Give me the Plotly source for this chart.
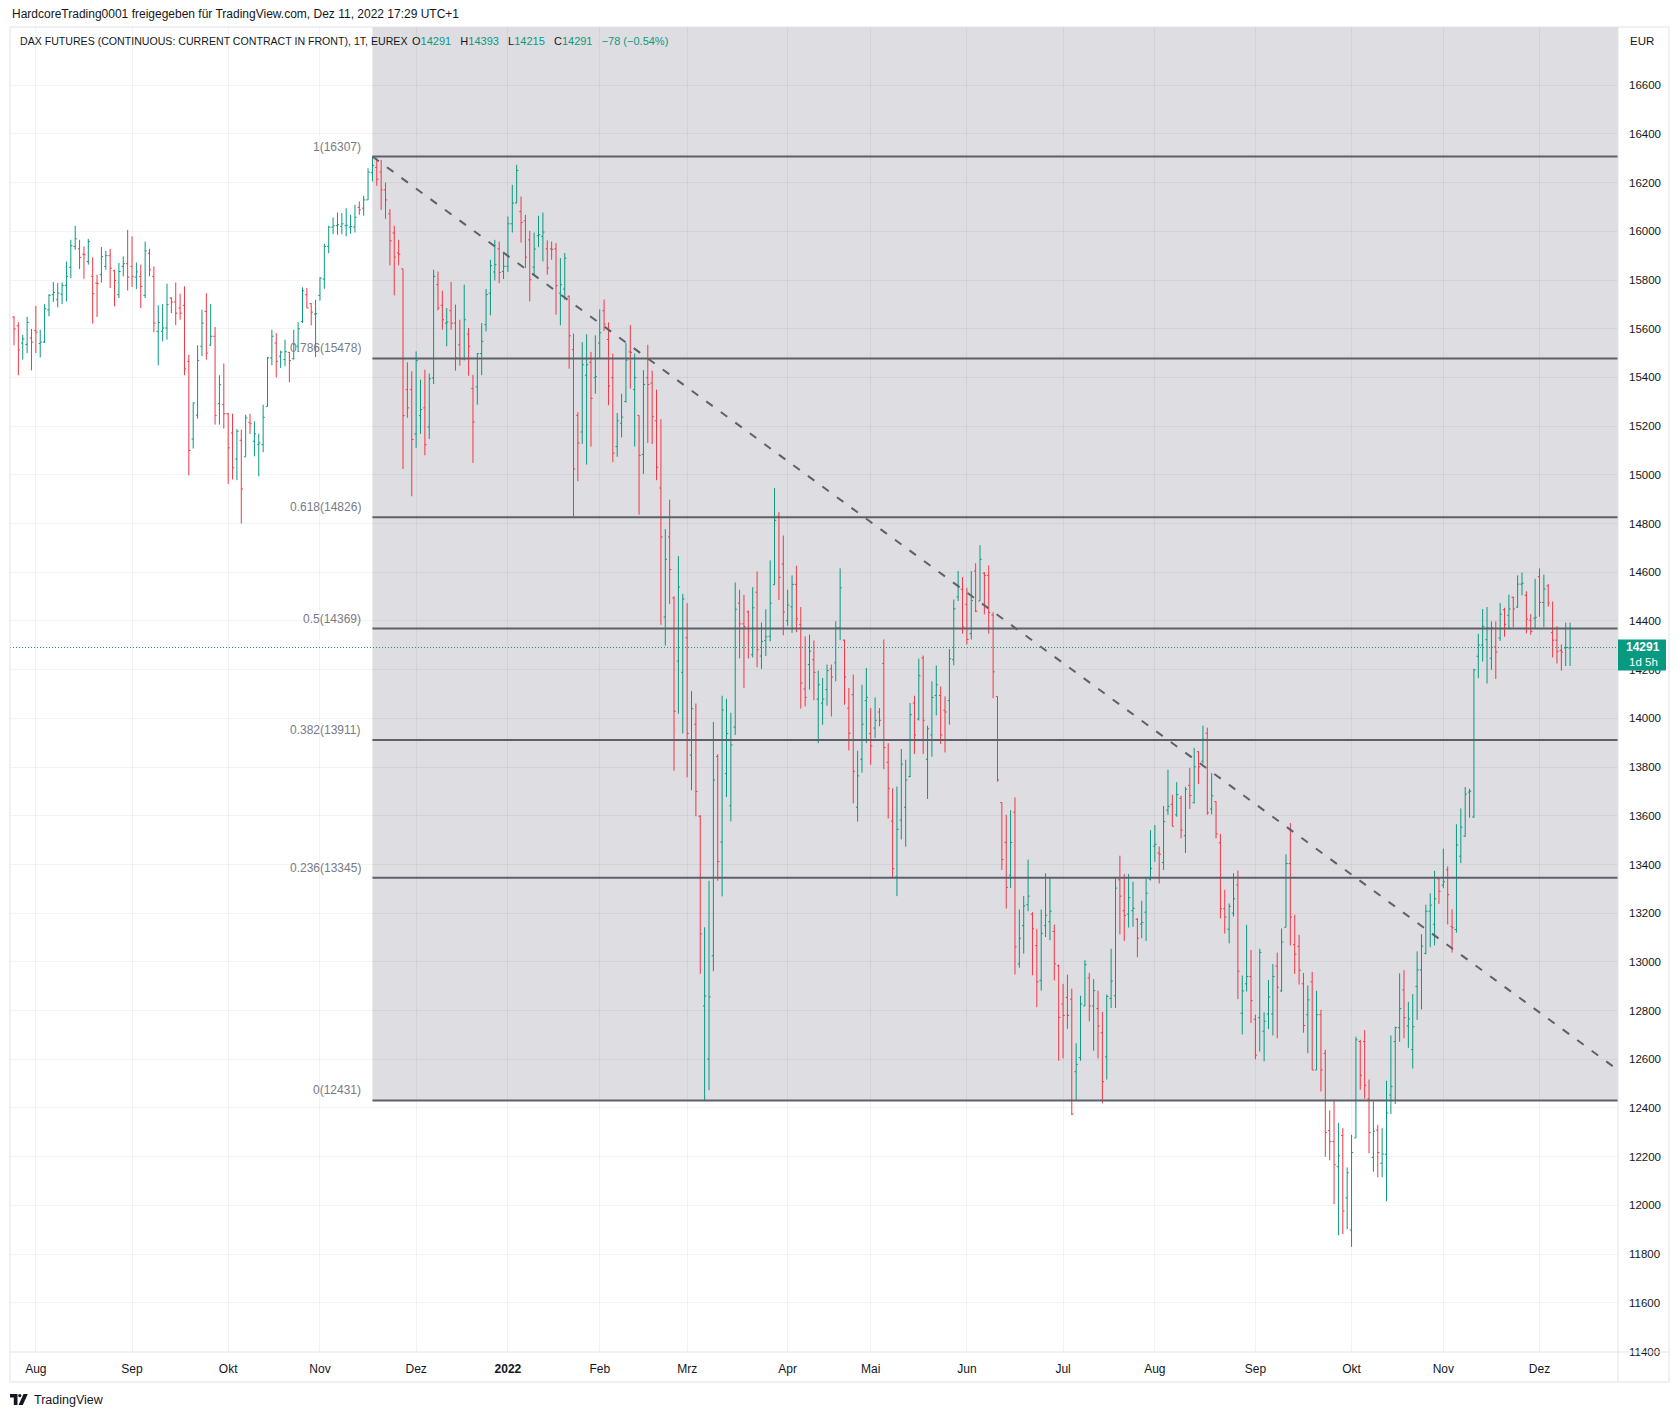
import pandas as pd
import plotly.graph_objects as go

# ---------------- data ----------------
opens = [
 15648,15612,15541,15535,15562,15593,15539,15545,15678,15740,
 15719,15742,15778,15852,15938,15928,15906,15876,15815,15787,
 15822,15856,15900,15838,15740,15856,15867,15856,15812,15815,
 15737,15910,15815,15589,15589,15603,15726,15710,15685,15696,
 15466,15147,15245,15528,15671,15532,15569,15292,15288,15251,
 15172,15065,15142,15074,15216,15138,15124,15124,15281,15480,
 15541,15487,15473,15503,15477,15528,15630,15740,15703,15660,
 15737,15804,15938,16017,16023,16020,16023,16017,16017,16098,
 16095,16129,16241,16262,16243,16170,16072,15993,15911,15846,
 15350,15350,15168,15243,15275,15197,15398,15781,15696,15623,
 15674,15623,15534,15476,15578,15354,15361,15498,15617,15746,
 15833,15928,15835,15856,16031,16116,16081,16043,15965,15853,
 15982,15979,15928,15928,15928,15746,15763,15733,15514,15244,
 15176,15409,15462,15399,15541,15674,15556,15399,15116,15212,
 15301,15505,15350,15244,15084,15399,15377,15222,14946,14416,
 14745,14494,14235,14189,14331,13849,13976,13598,12819,12601,
 13025,13843,13492,13773,13641,13964,14473,14388,14437,14261,
 14518,14256,14320,14337,14549,14830,14634,14401,14458,14550,
 14385,14121,14221,14241,14079,14063,14118,14203,14228,14372,
 14321,14042,14097,13635,13832,14073,13937,13960,14026,14225,
 13820,13578,13349,13582,13635,13761,14063,13997,14248,13832,
 13932,14094,14094,14033,14073,14241,14499,14530,14468,14348,
 14605,14482,14596,14587,14424,14090,13654,13491,13356,13615,
 12992,13149,13235,13196,13067,12924,13149,13165,13125,12984,
 12827,12854,12847,12549,12607,12819,12934,12819,12808,12709,
 12610,12850,12861,13337,13210,13196,13210,13175,13155,13204,
 13340,13475,13447,13408,13623,13647,13604,13672,13518,13725,
 13654,13863,13824,13939,13628,13658,13489,13218,13134,13200,
 13316,12789,12910,12940,12764,12771,12715,12786,12786,12983,
 12881,13142,13404,13071,13064,12910,12783,12918,12556,12783,
 12624,12307,12262,12159,12287,12031,11899,12277,12673,12673,
 12437,12197,12309,12173,12210,12453,12673,12730,12885,12737,
 12640,12899,12967,13035,13208,13154,13341,13315,13378,13145,
 13133,13434,13516,13697,13595,14255,14301,14323,14247,14293,
 14330,14446,14423,14497,14457,14551,14505,14403,14411,14582,
 14476,14544,14352,14321,14279,14289,14289,
]
highs = [
 15651,15626,15575,15649,15599,15694,15596,15701,15742,15792,
 15787,15790,15876,15965,16023,15965,15938,15969,15893,15822,
 15935,15920,15928,15842,15870,15897,16006,15979,15872,15863,
 15958,15928,15856,15696,15701,15785,15729,15790,15744,15774,
 15493,15298,15532,15678,15746,15701,15607,15409,15457,15254,
 15251,15188,15186,15247,15251,15220,15169,15288,15484,15596,
 15582,15510,15555,15504,15596,15627,15770,15767,15705,15719,
 15811,15949,16023,16057,16077,16075,16095,16068,16109,16123,
 16146,16259,16307,16300,16293,16200,16091,16023,15965,15846,
 15462,15425,15507,15391,15432,15416,15842,15835,15756,15685,
 15792,15699,15637,15781,15603,15411,15500,15623,15763,15883,
 15965,15958,15908,16061,16191,16273,16143,16068,16002,15995,
 16064,16077,15963,15958,15952,15890,15911,15737,15580,15257,
 15545,15577,15505,15573,15679,15720,15626,15498,15254,15333,
 15541,15615,15498,15244,15430,15534,15428,15350,15229,14777,
 14898,14501,14666,14511,14473,14112,14061,13603,13142,13333,
 13985,13853,14093,14080,14023,14558,14528,14507,14443,14539,
 14603,14394,14448,14649,14946,14847,14751,14528,14587,14626,
 14457,14337,14344,14320,14196,14166,14221,14221,14399,14616,
 14324,14125,14180,13867,14138,14207,14042,14086,14042,14324,
 13898,13713,13720,13874,13830,14063,14093,14245,14258,13970,
 14152,14217,14131,14090,14285,14488,14605,14580,14536,14605,
 14637,14711,14601,14628,14436,14090,13656,13604,13623,13675,
 13215,13270,13420,13204,13136,13215,13364,13345,13153,12989,
 12910,12948,12890,12666,12861,13007,12955,12929,12882,12795,
 12866,13054,13345,13436,13361,13361,13329,13180,13251,13348,
 13541,13562,13474,13640,13789,13686,13738,13683,13719,13797,
 13879,13866,13970,13962,13775,13660,13526,13296,13240,13364,
 13375,12944,13152,13049,12783,13054,12793,12925,12991,13038,
 13137,13442,13570,13193,13111,12954,12903,12959,12881,12803,
 12639,12390,12434,12339,12317,12156,12290,12693,12680,12720,
 12517,12427,12331,12317,12512,12698,12734,12953,12966,12836,
 12868,13043,13114,13235,13281,13374,13344,13465,13392,13216,
 13565,13630,13718,13711,14204,14347,14449,14457,14398,14398,
 14474,14454,14508,14500,14587,14599,14522,14428,14573,14616,
 14590,14551,14480,14378,14304,14393,14393,
]
lows = [
 15532,15409,15473,15500,15429,15500,15482,15541,15651,15710,
 15688,15701,15712,15808,15924,15845,15805,15863,15621,15648,
 15790,15842,15767,15692,15726,15815,15757,15771,15763,15685,
 15726,15815,15586,15450,15548,15555,15664,15615,15637,15409,
 14998,15108,15231,15487,15473,15532,15206,15206,15190,14963,
 14981,14978,14800,15074,15168,15076,14994,15093,15281,15450,
 15400,15439,15446,15380,15473,15504,15623,15685,15614,15484,
 15715,15764,15910,15988,15986,15988,15979,15990,15995,16068,
 16064,16129,16205,16187,16088,16051,15860,15737,15860,15024,
 15234,14912,15111,15168,15080,15147,15373,15675,15596,15528,
 15596,15428,15448,15470,15407,15049,15288,15409,15589,15655,
 15798,15787,15804,15833,15995,16116,15954,15849,15712,15819,
 15935,15876,15822,15883,15658,15614,15719,15436,14830,14974,
 15127,15042,15116,15333,15477,15590,15286,15052,15074,15154,
 15297,15354,15116,14836,15004,15131,15127,14978,14384,14299,
 14469,13785,14019,13938,13758,13705,13598,12951,12431,12473,
 12962,13333,13269,13677,13577,13932,14246,14125,14246,14250,
 14210,14203,14256,14316,14549,14486,14341,14380,14351,14354,
 14040,14049,14118,14074,13898,13974,14052,14008,14152,14321,
 14056,13868,13651,13576,13777,13898,13809,13919,13967,13791,
 13589,13342,13270,13503,13473,13758,13854,13991,13854,13669,
 13843,14012,13895,13860,13974,14218,14482,14348,14303,14324,
 14436,14482,14427,14348,14083,13740,13377,13219,13303,12948,
 12976,13034,13208,12945,12814,12882,13102,13089,12924,12594,
 12604,12725,12371,12434,12594,12819,12756,12635,12604,12419,
 12517,12811,12811,13113,13086,13141,13144,13019,13097,13086,
 13334,13411,13322,13377,13604,13557,13596,13507,13447,13628,
 13651,13730,13813,13604,13606,13507,13178,13116,13076,13186,
 12847,12702,12878,12749,12600,12632,12592,12724,12698,12686,
 12877,13142,13067,12951,12907,12709,12625,12556,12556,12468,
 12200,12185,12005,11877,11882,11902,11830,12277,12475,12438,
 12214,12138,12115,12116,12017,12375,12416,12672,12686,12647,
 12562,12762,12805,13031,13060,13068,13238,13303,13154,13038,
 13120,13405,13514,13592,13592,14165,14233,14143,14199,14162,
 14318,14335,14369,14374,14454,14505,14349,14343,14369,14417,
 14374,14459,14250,14225,14196,14215,14215,
]
closes = [
 15599,15513,15558,15626,15545,15586,15545,15682,15737,15749,
 15746,15778,15815,15941,15969,15893,15904,15958,15744,15785,
 15897,15900,15849,15798,15835,15867,15812,15815,15833,15774,
 15920,15842,15623,15626,15603,15699,15710,15664,15664,15435,
 15100,15295,15470,15623,15500,15569,15243,15370,15251,15111,
 15029,15179,14942,15234,15210,15168,15131,15236,15480,15569,
 15466,15504,15506,15469,15537,15600,15756,15685,15668,15662,
 15808,15938,16017,16023,16027,16031,16025,16020,16058,16088,
 16129,16243,16270,16214,16170,16129,15961,15894,15906,15243,
 15275,15145,15469,15268,15124,15395,15815,15685,15637,15627,
 15623,15480,15476,15637,15528,15217,15498,15548,15740,15859,
 15863,15831,15856,16031,16116,16250,16036,15894,15801,15927,
 15986,15997,15849,15926,15777,15781,15890,15571,15024,15131,
 15452,15452,15314,15403,15583,15619,15365,15089,15222,15237,
 15471,15503,15399,15080,15371,15371,15239,15031,14745,14653,
 14611,14029,14539,14490,13938,14040,13700,13115,12860,12856,
 13747,13412,14034,13938,13891,14448,14388,14377,14369,14454,
 14282,14316,14335,14473,14813,14579,14437,14465,14550,14409,
 14145,14086,14276,14189,14138,14079,14196,14170,14372,14536,
 14170,13939,13782,13764,13976,14086,13887,13992,13992,13880,
 13713,13383,13544,13812,13747,14015,13932,14175,13992,13957,
 14086,14138,13932,14026,14245,14450,14540,14376,14324,14484,
 14440,14653,14587,14434,14191,13747,13420,13306,13490,13062,
 13097,13230,13270,13136,12918,13117,13191,13208,12992,12772,
 12780,12780,12375,12579,12827,12989,12819,12882,12737,12508,
 12858,12921,13303,13270,13190,13264,13220,13097,13162,13282,
 13384,13483,13442,13576,13639,13557,13687,13541,13709,13683,
 13801,13801,13914,13612,13682,13526,13218,13184,13228,13259,
 12962,12881,12940,12841,12617,13039,12756,12856,12940,12896,
 13082,13404,13184,13032,12966,12739,12844,12556,12783,12556,
 12299,12262,12167,12204,11977,12134,12217,12680,12534,12493,
 12299,12305,12217,12211,12380,12488,12730,12808,12771,12766,
 12734,12967,13065,13208,13233,13259,13290,13329,13276,13140,
 13480,13553,13689,13701,14199,14301,14378,14372,14372,14272,
 14428,14386,14449,14449,14551,14555,14408,14357,14415,14476,
 14531,14474,14321,14275,14272,14291,14291,
]

month_labels = ["Aug", "Sep", "Okt", "Nov", "Dez", "<b>2022</b>", "Feb", "Mrz", "Apr",
                "Mai", "Jun", "Jul", "Aug", "Sep", "Okt", "Nov", "Dez"]
price_ticks = list(range(11400, 16601, 200))

fib_ratios = ["1", "0.786", "0.618", "0.5", "0.382", "0.236", "0"]
fib_prices = [16307, 15478, 14826, 14369, 13911, 13345, 12431]
fib_anchor_bar = 82
trend_start = (82, 16307)
trend_end = (366.96, 12556)
last_price = 14291

header1 = "HardcoreTrading0001 freigegeben für TradingView.com, Dez 11, 2022 17:29 UTC+1"
symbol_title = "DAX FUTURES (CONTINUOUS: CURRENT CONTRACT IN FRONT), 1T, EUREX"
legend_names = ["O", "H", "L", "C"]
legend_values = ["14291", "14393", "14215", "14291"]
change_text = "−78 (−0.54%)"

# ---------------- calendar (trading days) ----------------
holidays = {"2021-12-24", "2021-12-31", "2022-04-15", "2022-04-18"}
dates = [d for d in pd.bdate_range("2021-07-26", "2022-12-12") if d.strftime("%Y-%m-%d") not in holidays]
n = min(len(dates), len(opens), len(highs), len(lows), len(closes))
xs = list(range(n))
tick_idx, seen = [], set()
for i, d in enumerate(dates[:n]):
    k = (d.year, d.month)
    if k not in seen:
        seen.add(k)
        tick_idx.append(i)
tick_idx = tick_idx[1:1 + len(month_labels)]

# ---------------- layout constants ----------------
W, H = 1680, 1418
PL, PR, PT, PB = 10, 1618, 27, 1352
X_MIN, X_MAX = -0.915, 366.96
Y_MIN, Y_MAX = 11398, 16839
UP, DOWN = "#089981", "#F23645"
LINE = "#5d606b"
FRAME = "#e0e3eb"
TXT = "#131722"
FONT = "Liberation Sans, Arial, sans-serif"


def pxx(px):
    return (px - PL) / (PR - PL)


def pxy(py):
    return (PB - py) / (PB - PT)


def price_py(p):
    return PT + (Y_MAX - p) / (Y_MAX - Y_MIN) * (PB - PT)


fig = go.Figure()
fig.add_trace(go.Ohlc(
    x=xs, open=opens[:n], high=highs[:n], low=lows[:n], close=closes[:n],
    increasing=dict(line=dict(color=UP, width=1)),
    decreasing=dict(line=dict(color=DOWN, width=1)),
    tickwidth=0.38, hoverinfo="skip", showlegend=False,
))

shapes = []
# fib background
shapes.append(dict(type="rect", xref="x", yref="y", x0=fib_anchor_bar, x1=X_MAX,
                   y0=fib_prices[-1], y1=Y_MAX, fillcolor="#dedee2", line=dict(width=0), layer="below"))
# fib levels
for p in fib_prices:
    shapes.append(dict(type="line", xref="x", yref="y", x0=fib_anchor_bar, x1=X_MAX, y0=p, y1=p,
                       line=dict(color=LINE, width=2), layer="above"))
# trend line
shapes.append(dict(type="line", xref="x", yref="y", x0=trend_start[0], y0=trend_start[1],
                   x1=trend_end[0], y1=trend_end[1], line=dict(color=LINE, width=2, dash="8px,10px"),
                   layer="above"))
# last price dotted line
shapes.append(dict(type="line", xref="paper", yref="y", x0=0, x1=1, y0=last_price, y1=last_price,
                   line=dict(color=UP, width=1, dash="1px,2px"), layer="above"))
# frame
for (x0, y0, x1, y1) in [(10, 27, 1669, 27), (10, 1382, 1669, 1382), (10, 27, 10, 1382),
                         (1669, 27, 1669, 1382), (1618, 27, 1618, 1382), (10, 1352, 1669, 1352)]:
    shapes.append(dict(type="line", xref="paper", yref="paper", x0=pxx(x0), x1=pxx(x1),
                       y0=pxy(y0), y1=pxy(y1), line=dict(color=FRAME, width=1), layer="above"))
# price label box
lp = price_py(last_price)
shapes.append(dict(type="rect", xref="paper", yref="paper", x0=pxx(1618), x1=pxx(1666),
                   y0=pxy(lp - 8), y1=pxy(lp + 23), fillcolor=UP, line=dict(width=0), layer="above"))


# TradingView logo glyph
def ppath(pts):
    return "M" + " L".join(f"{pxx(a):.5f},{pxy(b):.5f}" for a, b in pts) + " Z"


logo = [[(10, 1394), (17.5, 1394), (17.5, 1405), (13.8, 1405), (13.8, 1397.6), (10, 1397.6)],
        [(23.5, 1394), (27.8, 1394), (22.8, 1405), (18.6, 1405)]]
for pts in logo:
    shapes.append(dict(type="path", xref="paper", yref="paper", path=ppath(pts),
                       fillcolor=TXT, line=dict(width=0), layer="above"))
shapes.append(dict(type="circle", xref="paper", yref="paper", x0=pxx(18.2), x1=pxx(21.4),
                   y0=pxy(1394), y1=pxy(1397.2), fillcolor=TXT, line=dict(width=0), layer="above"))

ann = []
for r, p in zip(fib_ratios, fib_prices):
    ann.append(dict(x=fib_anchor_bar, y=p, xref="x", yref="y", text=f"{r}({p})", showarrow=False,
                    xanchor="right", yanchor="middle", xshift=-9, yshift=10,
                    font=dict(family=FONT, size=12, color="#787b86")))

g = lambda v: f"<span style='color:{UP}'>{v}</span>"
sp = "&nbsp;&nbsp;&nbsp;"
legend_values_line = sp.join(f"{k}{g(v)}" for k, v in zip(legend_names, legend_values)) + sp + g(change_text)
ann += [
    dict(x=pxx(10), y=pxy(14), xref="paper", yref="paper", text=header1, showarrow=False,
         xanchor="left", yanchor="middle", font=dict(family=FONT, size=12, color=TXT)),
    dict(x=pxx(18), y=pxy(41), xref="paper", yref="paper", text=symbol_title, showarrow=False,
         xanchor="left", yanchor="middle", font=dict(family=FONT, size=10.6, color=TXT)),
    dict(x=pxx(410), y=pxy(41), xref="paper", yref="paper", text=legend_values_line, showarrow=False,
         xanchor="left", yanchor="middle", font=dict(family=FONT, size=11, color=TXT)),
    dict(x=pxx(1628), y=pxy(41), xref="paper", yref="paper", text="EUR", showarrow=False,
         xanchor="left", yanchor="middle", font=dict(family=FONT, size=11.5, color=TXT)),
    dict(x=pxx(1643), y=pxy(lp), xref="paper", yref="paper", text=f"<b>{last_price}</b>", showarrow=False,
         xanchor="center", yanchor="middle", font=dict(family=FONT, size=12, color="white")),
    dict(x=pxx(1643), y=pxy(lp + 14.5), xref="paper", yref="paper", text="1d 5h", showarrow=False,
         xanchor="center", yanchor="middle", font=dict(family=FONT, size=11.5, color="white")),
    dict(x=pxx(32), y=pxy(1399.5), xref="paper", yref="paper", text="TradingView", showarrow=False,
         xanchor="left", yanchor="middle", font=dict(family=FONT, size=12.5, color=TXT)),
]

grid = "rgba(42,46,57,0.06)"
fig.update_layout(
    width=W, height=H,
    margin=dict(l=PL, r=W - PR, t=PT, b=H - PB, autoexpand=False),
    paper_bgcolor="white", plot_bgcolor="white",
    showlegend=False, hovermode=False,
    shapes=shapes, annotations=ann,
    font=dict(family=FONT, size=12, color=TXT),
    xaxis=dict(range=[X_MIN, X_MAX], tickmode="array", tickvals=tick_idx, ticktext=month_labels,
               showgrid=True, gridcolor=grid, gridwidth=1, zeroline=False, showline=False,
               ticks="", ticklabelstandoff=8, tickfont=dict(family=FONT, size=12, color=TXT),
               rangeslider=dict(visible=False), fixedrange=True),
    yaxis=dict(range=[Y_MIN, Y_MAX], side="right", tickmode="array", tickvals=price_ticks,
               ticktext=[str(v) for v in price_ticks],
               showgrid=True, gridcolor=grid, gridwidth=1, zeroline=False, showline=False,
               ticks="", ticklabelstandoff=10, tickfont=dict(family=FONT, size=11.5, color=TXT),
               fixedrange=True),
)

fig.write_html("out.html")
